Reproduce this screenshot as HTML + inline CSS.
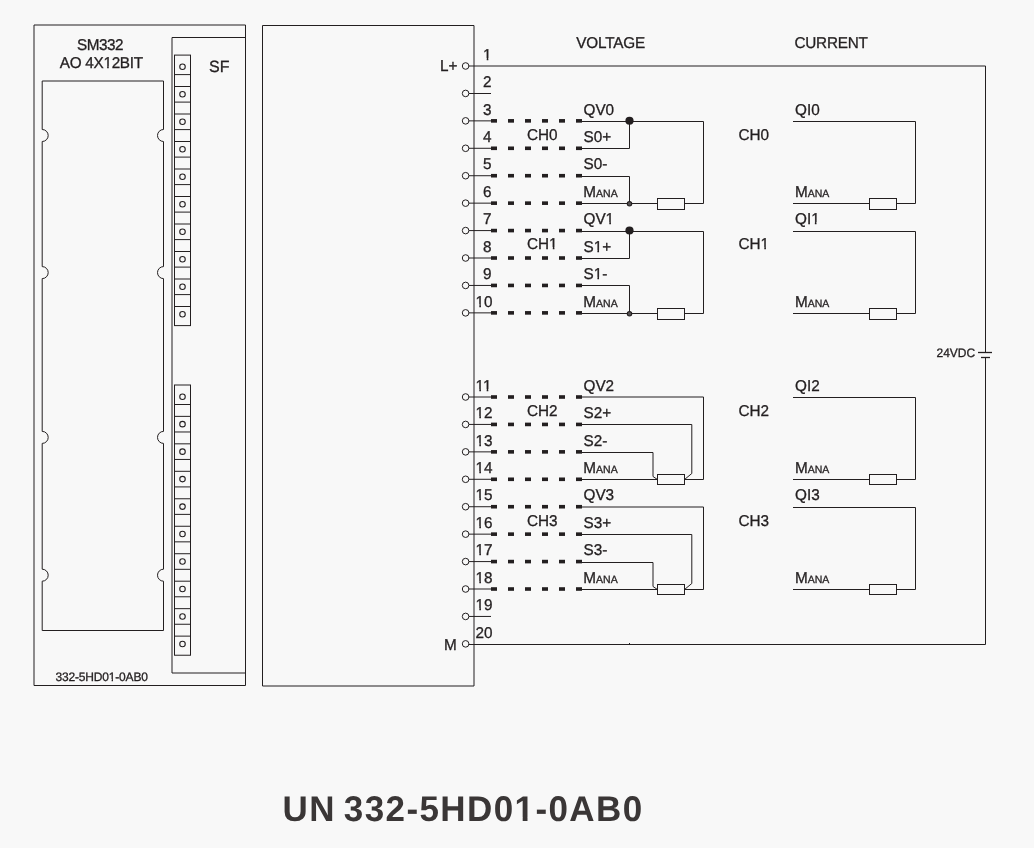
<!DOCTYPE html>
<html><head><meta charset="utf-8"><style>
html,body{margin:0;padding:0;background:#f8f8f8;}
svg{display:block;will-change:transform;}
text{font-family:"Liberation Sans", sans-serif;text-rendering:geometricPrecision;}
</style></head><body>
<svg width="1034" height="848" viewBox="0 0 1034 848">
<rect x="0" y="0" width="1034" height="848" fill="#f8f8f8"/>
<path d="M34,25 H245.5 V685.5 H34 Z" stroke="#231f20" stroke-width="1.0" fill="none"/>
<path d="M42.2,81.0 H163.5 V129.5 A6,6 0 0 0 163.5,141.5 V266.6 A6,6 0 0 0 163.5,278.6 V431.4 A6,6 0 0 0 163.5,443.4 V569.2 A6,6 0 0 0 163.5,581.2 V630.5 H42.2 V581.2 A6,6 0 0 0 42.2,569.2 V443.4 A6,6 0 0 0 42.2,431.4 V278.6 A6,6 0 0 0 42.2,266.6 V141.5 A6,6 0 0 0 42.2,129.5 Z" stroke="#231f20" stroke-width="1.0" fill="none"/>
<text x="100" y="50" transform="matrix(1,0,0,1.02,0,-1.000)" font-size="15.3" text-anchor="middle" font-weight="normal" fill="#231f20" stroke="#231f20" stroke-width="0.3" letter-spacing="-0.5">SM332</text>
<text x="101.3" y="68" transform="matrix(1,0,0,1.02,0,-1.360)" font-size="15.3" text-anchor="middle" font-weight="normal" fill="#231f20" stroke="#231f20" stroke-width="0.3" letter-spacing="-0.3">AO 4X12BIT</text>
<text x="55.5" y="681" transform="matrix(1,0,0,1.02,0,-13.620)" font-size="12" text-anchor="start" font-weight="normal" fill="#231f20" stroke="#231f20" stroke-width="0.3" letter-spacing="-0.18">332-5HD01-0AB0</text>
<path d="M245.5,37.5 H172 V673 H245.5" stroke="#231f20" stroke-width="1.0" fill="none"/>
<text x="209" y="72" transform="matrix(1,0,0,1.02,0,-1.440)" font-size="16" text-anchor="start" font-weight="normal" fill="#231f20" stroke="#231f20" stroke-width="0.3" >SF</text>
<rect x="174.5" y="55.099999999999994" width="16" height="270.5" stroke="#231f20" stroke-width="1.0" fill="none"/>
<circle cx="182.5" cy="66.8" r="2.75" stroke="#231f20" stroke-width="1.1" fill="none"/>
<line x1="174.5" y1="74.6" x2="190.5" y2="74.6" stroke="#231f20" stroke-width="1.0"/>
<circle cx="182.5" cy="94.3" r="2.75" stroke="#231f20" stroke-width="1.1" fill="none"/>
<line x1="174.5" y1="86.5" x2="190.5" y2="86.5" stroke="#231f20" stroke-width="1.0"/>
<line x1="174.5" y1="102.1" x2="190.5" y2="102.1" stroke="#231f20" stroke-width="1.0"/>
<circle cx="182.5" cy="121.8" r="2.75" stroke="#231f20" stroke-width="1.1" fill="none"/>
<line x1="174.5" y1="114.0" x2="190.5" y2="114.0" stroke="#231f20" stroke-width="1.0"/>
<line x1="174.5" y1="129.6" x2="190.5" y2="129.6" stroke="#231f20" stroke-width="1.0"/>
<circle cx="182.5" cy="149.3" r="2.75" stroke="#231f20" stroke-width="1.1" fill="none"/>
<line x1="174.5" y1="141.5" x2="190.5" y2="141.5" stroke="#231f20" stroke-width="1.0"/>
<line x1="174.5" y1="157.10000000000002" x2="190.5" y2="157.10000000000002" stroke="#231f20" stroke-width="1.0"/>
<circle cx="182.5" cy="176.8" r="2.75" stroke="#231f20" stroke-width="1.1" fill="none"/>
<line x1="174.5" y1="169.0" x2="190.5" y2="169.0" stroke="#231f20" stroke-width="1.0"/>
<line x1="174.5" y1="184.60000000000002" x2="190.5" y2="184.60000000000002" stroke="#231f20" stroke-width="1.0"/>
<circle cx="182.5" cy="204.3" r="2.75" stroke="#231f20" stroke-width="1.1" fill="none"/>
<line x1="174.5" y1="196.5" x2="190.5" y2="196.5" stroke="#231f20" stroke-width="1.0"/>
<line x1="174.5" y1="212.10000000000002" x2="190.5" y2="212.10000000000002" stroke="#231f20" stroke-width="1.0"/>
<circle cx="182.5" cy="231.8" r="2.75" stroke="#231f20" stroke-width="1.1" fill="none"/>
<line x1="174.5" y1="224.0" x2="190.5" y2="224.0" stroke="#231f20" stroke-width="1.0"/>
<line x1="174.5" y1="239.60000000000002" x2="190.5" y2="239.60000000000002" stroke="#231f20" stroke-width="1.0"/>
<circle cx="182.5" cy="259.3" r="2.75" stroke="#231f20" stroke-width="1.1" fill="none"/>
<line x1="174.5" y1="251.5" x2="190.5" y2="251.5" stroke="#231f20" stroke-width="1.0"/>
<line x1="174.5" y1="267.1" x2="190.5" y2="267.1" stroke="#231f20" stroke-width="1.0"/>
<circle cx="182.5" cy="286.8" r="2.75" stroke="#231f20" stroke-width="1.1" fill="none"/>
<line x1="174.5" y1="279.0" x2="190.5" y2="279.0" stroke="#231f20" stroke-width="1.0"/>
<line x1="174.5" y1="294.6" x2="190.5" y2="294.6" stroke="#231f20" stroke-width="1.0"/>
<circle cx="182.5" cy="314.3" r="2.75" stroke="#231f20" stroke-width="1.1" fill="none"/>
<line x1="174.5" y1="306.5" x2="190.5" y2="306.5" stroke="#231f20" stroke-width="1.0"/>
<rect x="174.5" y="385.0" width="16" height="270.2299999999999" stroke="#231f20" stroke-width="1.0" fill="none"/>
<circle cx="182.5" cy="396.7" r="2.75" stroke="#231f20" stroke-width="1.1" fill="none"/>
<line x1="174.5" y1="404.5" x2="190.5" y2="404.5" stroke="#231f20" stroke-width="1.0"/>
<circle cx="182.5" cy="424.16999999999996" r="2.75" stroke="#231f20" stroke-width="1.1" fill="none"/>
<line x1="174.5" y1="416.36999999999995" x2="190.5" y2="416.36999999999995" stroke="#231f20" stroke-width="1.0"/>
<line x1="174.5" y1="431.96999999999997" x2="190.5" y2="431.96999999999997" stroke="#231f20" stroke-width="1.0"/>
<circle cx="182.5" cy="451.64" r="2.75" stroke="#231f20" stroke-width="1.1" fill="none"/>
<line x1="174.5" y1="443.84" x2="190.5" y2="443.84" stroke="#231f20" stroke-width="1.0"/>
<line x1="174.5" y1="459.44" x2="190.5" y2="459.44" stroke="#231f20" stroke-width="1.0"/>
<circle cx="182.5" cy="479.11" r="2.75" stroke="#231f20" stroke-width="1.1" fill="none"/>
<line x1="174.5" y1="471.31" x2="190.5" y2="471.31" stroke="#231f20" stroke-width="1.0"/>
<line x1="174.5" y1="486.91" x2="190.5" y2="486.91" stroke="#231f20" stroke-width="1.0"/>
<circle cx="182.5" cy="506.58" r="2.75" stroke="#231f20" stroke-width="1.1" fill="none"/>
<line x1="174.5" y1="498.78" x2="190.5" y2="498.78" stroke="#231f20" stroke-width="1.0"/>
<line x1="174.5" y1="514.38" x2="190.5" y2="514.38" stroke="#231f20" stroke-width="1.0"/>
<circle cx="182.5" cy="534.05" r="2.75" stroke="#231f20" stroke-width="1.1" fill="none"/>
<line x1="174.5" y1="526.25" x2="190.5" y2="526.25" stroke="#231f20" stroke-width="1.0"/>
<line x1="174.5" y1="541.8499999999999" x2="190.5" y2="541.8499999999999" stroke="#231f20" stroke-width="1.0"/>
<circle cx="182.5" cy="561.52" r="2.75" stroke="#231f20" stroke-width="1.1" fill="none"/>
<line x1="174.5" y1="553.72" x2="190.5" y2="553.72" stroke="#231f20" stroke-width="1.0"/>
<line x1="174.5" y1="569.3199999999999" x2="190.5" y2="569.3199999999999" stroke="#231f20" stroke-width="1.0"/>
<circle cx="182.5" cy="588.99" r="2.75" stroke="#231f20" stroke-width="1.1" fill="none"/>
<line x1="174.5" y1="581.19" x2="190.5" y2="581.19" stroke="#231f20" stroke-width="1.0"/>
<line x1="174.5" y1="596.79" x2="190.5" y2="596.79" stroke="#231f20" stroke-width="1.0"/>
<circle cx="182.5" cy="616.46" r="2.75" stroke="#231f20" stroke-width="1.1" fill="none"/>
<line x1="174.5" y1="608.6600000000001" x2="190.5" y2="608.6600000000001" stroke="#231f20" stroke-width="1.0"/>
<line x1="174.5" y1="624.26" x2="190.5" y2="624.26" stroke="#231f20" stroke-width="1.0"/>
<circle cx="182.5" cy="643.93" r="2.75" stroke="#231f20" stroke-width="1.1" fill="none"/>
<line x1="174.5" y1="636.13" x2="190.5" y2="636.13" stroke="#231f20" stroke-width="1.0"/>
<path d="M262.5,25.5 H474 V686 H262.5 Z" stroke="#231f20" stroke-width="1.0" fill="none"/>
<circle cx="465.6" cy="66.0" r="3.3" stroke="#231f20" stroke-width="1.0" fill="#f8f8f8"/>
<text x="483" y="59.7" transform="matrix(1,0,0,1.02,0,-1.194)" font-size="15.3" text-anchor="start" font-weight="normal" fill="#231f20" stroke="#231f20" stroke-width="0.3" >1</text>
<circle cx="465.6" cy="93.43" r="3.3" stroke="#231f20" stroke-width="1.0" fill="#f8f8f8"/>
<text x="483" y="87.13000000000001" transform="matrix(1,0,0,1.02,0,-1.743)" font-size="15.3" text-anchor="start" font-weight="normal" fill="#231f20" stroke="#231f20" stroke-width="0.3" >2</text>
<circle cx="465.6" cy="120.86" r="3.3" stroke="#231f20" stroke-width="1.0" fill="#f8f8f8"/>
<text x="483" y="114.56" transform="matrix(1,0,0,1.02,0,-2.291)" font-size="15.3" text-anchor="start" font-weight="normal" fill="#231f20" stroke="#231f20" stroke-width="0.3" >3</text>
<circle cx="465.6" cy="148.29" r="3.3" stroke="#231f20" stroke-width="1.0" fill="#f8f8f8"/>
<text x="483" y="141.98999999999998" transform="matrix(1,0,0,1.02,0,-2.840)" font-size="15.3" text-anchor="start" font-weight="normal" fill="#231f20" stroke="#231f20" stroke-width="0.3" >4</text>
<circle cx="465.6" cy="175.72" r="3.3" stroke="#231f20" stroke-width="1.0" fill="#f8f8f8"/>
<text x="483" y="169.42" transform="matrix(1,0,0,1.02,0,-3.388)" font-size="15.3" text-anchor="start" font-weight="normal" fill="#231f20" stroke="#231f20" stroke-width="0.3" >5</text>
<circle cx="465.6" cy="203.15" r="3.3" stroke="#231f20" stroke-width="1.0" fill="#f8f8f8"/>
<text x="483" y="196.85" transform="matrix(1,0,0,1.02,0,-3.937)" font-size="15.3" text-anchor="start" font-weight="normal" fill="#231f20" stroke="#231f20" stroke-width="0.3" >6</text>
<circle cx="465.6" cy="230.57999999999998" r="3.3" stroke="#231f20" stroke-width="1.0" fill="#f8f8f8"/>
<text x="483" y="224.27999999999997" transform="matrix(1,0,0,1.02,0,-4.486)" font-size="15.3" text-anchor="start" font-weight="normal" fill="#231f20" stroke="#231f20" stroke-width="0.3" >7</text>
<circle cx="465.6" cy="258.01" r="3.3" stroke="#231f20" stroke-width="1.0" fill="#f8f8f8"/>
<text x="483" y="251.70999999999998" transform="matrix(1,0,0,1.02,0,-5.034)" font-size="15.3" text-anchor="start" font-weight="normal" fill="#231f20" stroke="#231f20" stroke-width="0.3" >8</text>
<circle cx="465.6" cy="285.44" r="3.3" stroke="#231f20" stroke-width="1.0" fill="#f8f8f8"/>
<text x="483" y="279.14" transform="matrix(1,0,0,1.02,0,-5.583)" font-size="15.3" text-anchor="start" font-weight="normal" fill="#231f20" stroke="#231f20" stroke-width="0.3" >9</text>
<circle cx="465.6" cy="312.87" r="3.3" stroke="#231f20" stroke-width="1.0" fill="#f8f8f8"/>
<text x="475.6" y="306.57" transform="matrix(1,0,0,1.02,0,-6.131)" font-size="15.3" text-anchor="start" font-weight="normal" fill="#231f20" stroke="#231f20" stroke-width="0.3" >10</text>
<circle cx="465.6" cy="397.0" r="3.3" stroke="#231f20" stroke-width="1.0" fill="#f8f8f8"/>
<text x="475.6" y="390.7" transform="matrix(1,0,0,1.02,0,-7.814)" font-size="15.3" text-anchor="start" font-weight="normal" fill="#231f20" stroke="#231f20" stroke-width="0.3" >11</text>
<circle cx="465.6" cy="424.43" r="3.3" stroke="#231f20" stroke-width="1.0" fill="#f8f8f8"/>
<text x="475.6" y="418.13" transform="matrix(1,0,0,1.02,0,-8.363)" font-size="15.3" text-anchor="start" font-weight="normal" fill="#231f20" stroke="#231f20" stroke-width="0.3" >12</text>
<circle cx="465.6" cy="451.86" r="3.3" stroke="#231f20" stroke-width="1.0" fill="#f8f8f8"/>
<text x="475.6" y="445.56" transform="matrix(1,0,0,1.02,0,-8.911)" font-size="15.3" text-anchor="start" font-weight="normal" fill="#231f20" stroke="#231f20" stroke-width="0.3" >13</text>
<circle cx="465.6" cy="479.28999999999996" r="3.3" stroke="#231f20" stroke-width="1.0" fill="#f8f8f8"/>
<text x="475.6" y="472.98999999999995" transform="matrix(1,0,0,1.02,0,-9.460)" font-size="15.3" text-anchor="start" font-weight="normal" fill="#231f20" stroke="#231f20" stroke-width="0.3" >14</text>
<circle cx="465.6" cy="506.72" r="3.3" stroke="#231f20" stroke-width="1.0" fill="#f8f8f8"/>
<text x="475.6" y="500.42" transform="matrix(1,0,0,1.02,0,-10.008)" font-size="15.3" text-anchor="start" font-weight="normal" fill="#231f20" stroke="#231f20" stroke-width="0.3" >15</text>
<circle cx="465.6" cy="534.15" r="3.3" stroke="#231f20" stroke-width="1.0" fill="#f8f8f8"/>
<text x="475.6" y="527.85" transform="matrix(1,0,0,1.02,0,-10.557)" font-size="15.3" text-anchor="start" font-weight="normal" fill="#231f20" stroke="#231f20" stroke-width="0.3" >16</text>
<circle cx="465.6" cy="561.5799999999999" r="3.3" stroke="#231f20" stroke-width="1.0" fill="#f8f8f8"/>
<text x="475.6" y="555.28" transform="matrix(1,0,0,1.02,0,-11.106)" font-size="15.3" text-anchor="start" font-weight="normal" fill="#231f20" stroke="#231f20" stroke-width="0.3" >17</text>
<circle cx="465.6" cy="589.01" r="3.3" stroke="#231f20" stroke-width="1.0" fill="#f8f8f8"/>
<text x="475.6" y="582.71" transform="matrix(1,0,0,1.02,0,-11.654)" font-size="15.3" text-anchor="start" font-weight="normal" fill="#231f20" stroke="#231f20" stroke-width="0.3" >18</text>
<circle cx="465.6" cy="616.44" r="3.3" stroke="#231f20" stroke-width="1.0" fill="#f8f8f8"/>
<text x="475.6" y="610.1400000000001" transform="matrix(1,0,0,1.02,0,-12.203)" font-size="15.3" text-anchor="start" font-weight="normal" fill="#231f20" stroke="#231f20" stroke-width="0.3" >19</text>
<circle cx="465.6" cy="643.87" r="3.3" stroke="#231f20" stroke-width="1.0" fill="#f8f8f8"/>
<text x="475.6" y="637.57" transform="matrix(1,0,0,1.02,0,-12.751)" font-size="15.3" text-anchor="start" font-weight="normal" fill="#231f20" stroke="#231f20" stroke-width="0.3" >20</text>
<text x="440" y="71" transform="matrix(1,0,0,1.02,0,-1.420)" font-size="15.3" text-anchor="start" font-weight="normal" fill="#231f20" stroke="#231f20" stroke-width="0.3" >L+</text>
<text x="444" y="650" transform="matrix(1,0,0,1.02,0,-13.000)" font-size="15.3" text-anchor="start" font-weight="normal" fill="#231f20" stroke="#231f20" stroke-width="0.3" >M</text>
<line x1="468.90000000000003" y1="66.0" x2="985.5" y2="66.0" stroke="#231f20" stroke-width="1.0"/>
<line x1="985.5" y1="66.0" x2="985.5" y2="352.5" stroke="#231f20" stroke-width="1.0"/>
<line x1="985.5" y1="357.5" x2="985.5" y2="644.5" stroke="#231f20" stroke-width="1.0"/>
<line x1="468.90000000000003" y1="644.5" x2="985.5" y2="644.5" stroke="#231f20" stroke-width="1.0"/>
<line x1="978" y1="352.5" x2="992" y2="352.5" stroke="#231f20" stroke-width="1.3"/>
<line x1="981" y1="357.5" x2="990" y2="357.5" stroke="#231f20" stroke-width="1.3"/>
<text x="936.5" y="357.3" transform="matrix(1,0,0,1.02,0,-7.146)" font-size="12" text-anchor="start" font-weight="normal" fill="#231f20" stroke="#231f20" stroke-width="0.3" >24VDC</text>
<line x1="468.90000000000003" y1="93.5" x2="491" y2="93.5" stroke="#231f20" stroke-width="1.0"/>
<line x1="468.90000000000003" y1="616.44" x2="491" y2="616.44" stroke="#231f20" stroke-width="1.0"/>
<text x="576.3" y="48" transform="matrix(1,0,0,1.02,0,-0.960)" font-size="15.3" text-anchor="start" font-weight="normal" fill="#231f20" stroke="#231f20" stroke-width="0.3" letter-spacing="-0.2">VOLTAGE</text>
<text x="794.5" y="48" transform="matrix(1,0,0,1.02,0,-0.960)" font-size="15.3" text-anchor="start" font-weight="normal" fill="#231f20" stroke="#231f20" stroke-width="0.3" letter-spacing="-0.25">CURRENT</text>
<line x1="468.90000000000003" y1="120.86" x2="491" y2="120.86" stroke="#231f20" stroke-width="1.0"/>
<rect x="491" y="119.06" width="6" height="3.6" stroke="#231f20" stroke-width="0" fill="#231f20"/>
<rect x="508" y="119.06" width="6" height="3.6" stroke="#231f20" stroke-width="0" fill="#231f20"/>
<rect x="525" y="119.06" width="6" height="3.6" stroke="#231f20" stroke-width="0" fill="#231f20"/>
<rect x="542" y="119.06" width="6" height="3.6" stroke="#231f20" stroke-width="0" fill="#231f20"/>
<rect x="559" y="119.06" width="6" height="3.6" stroke="#231f20" stroke-width="0" fill="#231f20"/>
<rect x="576" y="119.06" width="6" height="3.6" stroke="#231f20" stroke-width="0" fill="#231f20"/>
<line x1="468.90000000000003" y1="148.29" x2="491" y2="148.29" stroke="#231f20" stroke-width="1.0"/>
<rect x="491" y="146.48999999999998" width="6" height="3.6" stroke="#231f20" stroke-width="0" fill="#231f20"/>
<rect x="508" y="146.48999999999998" width="6" height="3.6" stroke="#231f20" stroke-width="0" fill="#231f20"/>
<rect x="525" y="146.48999999999998" width="6" height="3.6" stroke="#231f20" stroke-width="0" fill="#231f20"/>
<rect x="542" y="146.48999999999998" width="6" height="3.6" stroke="#231f20" stroke-width="0" fill="#231f20"/>
<rect x="559" y="146.48999999999998" width="6" height="3.6" stroke="#231f20" stroke-width="0" fill="#231f20"/>
<rect x="576" y="146.48999999999998" width="6" height="3.6" stroke="#231f20" stroke-width="0" fill="#231f20"/>
<line x1="468.90000000000003" y1="175.72" x2="491" y2="175.72" stroke="#231f20" stroke-width="1.0"/>
<rect x="491" y="173.92" width="6" height="3.6" stroke="#231f20" stroke-width="0" fill="#231f20"/>
<rect x="508" y="173.92" width="6" height="3.6" stroke="#231f20" stroke-width="0" fill="#231f20"/>
<rect x="525" y="173.92" width="6" height="3.6" stroke="#231f20" stroke-width="0" fill="#231f20"/>
<rect x="542" y="173.92" width="6" height="3.6" stroke="#231f20" stroke-width="0" fill="#231f20"/>
<rect x="559" y="173.92" width="6" height="3.6" stroke="#231f20" stroke-width="0" fill="#231f20"/>
<rect x="576" y="173.92" width="6" height="3.6" stroke="#231f20" stroke-width="0" fill="#231f20"/>
<line x1="468.90000000000003" y1="203.15" x2="491" y2="203.15" stroke="#231f20" stroke-width="1.0"/>
<rect x="491" y="201.35" width="6" height="3.6" stroke="#231f20" stroke-width="0" fill="#231f20"/>
<rect x="508" y="201.35" width="6" height="3.6" stroke="#231f20" stroke-width="0" fill="#231f20"/>
<rect x="525" y="201.35" width="6" height="3.6" stroke="#231f20" stroke-width="0" fill="#231f20"/>
<rect x="542" y="201.35" width="6" height="3.6" stroke="#231f20" stroke-width="0" fill="#231f20"/>
<rect x="559" y="201.35" width="6" height="3.6" stroke="#231f20" stroke-width="0" fill="#231f20"/>
<rect x="576" y="201.35" width="6" height="3.6" stroke="#231f20" stroke-width="0" fill="#231f20"/>
<text x="527" y="139.66" transform="matrix(1,0,0,1.02,0,-2.793)" font-size="15.3" text-anchor="start" font-weight="normal" fill="#231f20" stroke="#231f20" stroke-width="0.3" >CH0</text>
<text x="583.5" y="114.56" transform="matrix(1,0,0,1.02,0,-2.291)" font-size="15.3" text-anchor="start" font-weight="normal" fill="#231f20" stroke="#231f20" stroke-width="0.3" >QV0</text>
<text x="583.5" y="141.98999999999998" transform="matrix(1,0,0,1.02,0,-2.840)" font-size="15.3" text-anchor="start" font-weight="normal" fill="#231f20" stroke="#231f20" stroke-width="0.3" >S0+</text>
<text x="583.5" y="169.42" transform="matrix(1,0,0,1.02,0,-3.388)" font-size="15.3" text-anchor="start" font-weight="normal" fill="#231f20" stroke="#231f20" stroke-width="0.3" >S0-</text>
<text x="583.3" y="196.85" transform="matrix(1,0,0,1.02,0,-3.937)" font-size="15.3" text-anchor="start" font-weight="normal" fill="#231f20" stroke="#231f20" stroke-width="0.3" >M<tspan font-size="10.5">ANA</tspan></text>
<line x1="582" y1="121.5" x2="703.5" y2="121.5" stroke="#231f20" stroke-width="1.0"/>
<path d="M582,148.5 H629.5 V121.5" stroke="#231f20" stroke-width="1.0" fill="none"/>
<path d="M582,176.5 H629.5 V203.5" stroke="#231f20" stroke-width="1.0" fill="none"/>
<line x1="582" y1="203.5" x2="657.5" y2="203.5" stroke="#231f20" stroke-width="1.0"/>
<path d="M684.5,203.5 H703.5 V121.5" stroke="#231f20" stroke-width="1.0" fill="none"/>
<circle cx="629.5" cy="120.76" r="4.1" stroke="#231f20" stroke-width="0" fill="#231f20"/>
<circle cx="629.5" cy="203.75" r="2.2" stroke="#231f20" stroke-width="1.1" fill="#555152"/>
<rect x="657.5" y="198.5" width="27.0" height="11" stroke="#231f20" stroke-width="1.0" fill="#f8f8f8"/>
<text x="738.5" y="139.66" transform="matrix(1,0,0,1.02,0,-2.793)" font-size="15.3" text-anchor="start" font-weight="normal" fill="#231f20" stroke="#231f20" stroke-width="0.3" >CH0</text>
<text x="795" y="114.56" transform="matrix(1,0,0,1.02,0,-2.291)" font-size="15.3" text-anchor="start" font-weight="normal" fill="#231f20" stroke="#231f20" stroke-width="0.3" >QI0</text>
<text x="795" y="196.85" transform="matrix(1,0,0,1.02,0,-3.937)" font-size="15.3" text-anchor="start" font-weight="normal" fill="#231f20" stroke="#231f20" stroke-width="0.3" >M<tspan font-size="10.5">ANA</tspan></text>
<path d="M793,121.5 H915.5 V203.5 H896.5" stroke="#231f20" stroke-width="1.0" fill="none"/>
<line x1="793" y1="203.5" x2="869.5" y2="203.5" stroke="#231f20" stroke-width="1.0"/>
<rect x="869.5" y="198.5" width="27" height="11" stroke="#231f20" stroke-width="1.0" fill="#f8f8f8"/>
<line x1="468.90000000000003" y1="230.57999999999998" x2="491" y2="230.57999999999998" stroke="#231f20" stroke-width="1.0"/>
<rect x="491" y="228.77999999999997" width="6" height="3.6" stroke="#231f20" stroke-width="0" fill="#231f20"/>
<rect x="508" y="228.77999999999997" width="6" height="3.6" stroke="#231f20" stroke-width="0" fill="#231f20"/>
<rect x="525" y="228.77999999999997" width="6" height="3.6" stroke="#231f20" stroke-width="0" fill="#231f20"/>
<rect x="542" y="228.77999999999997" width="6" height="3.6" stroke="#231f20" stroke-width="0" fill="#231f20"/>
<rect x="559" y="228.77999999999997" width="6" height="3.6" stroke="#231f20" stroke-width="0" fill="#231f20"/>
<rect x="576" y="228.77999999999997" width="6" height="3.6" stroke="#231f20" stroke-width="0" fill="#231f20"/>
<line x1="468.90000000000003" y1="258.01" x2="491" y2="258.01" stroke="#231f20" stroke-width="1.0"/>
<rect x="491" y="256.21" width="6" height="3.6" stroke="#231f20" stroke-width="0" fill="#231f20"/>
<rect x="508" y="256.21" width="6" height="3.6" stroke="#231f20" stroke-width="0" fill="#231f20"/>
<rect x="525" y="256.21" width="6" height="3.6" stroke="#231f20" stroke-width="0" fill="#231f20"/>
<rect x="542" y="256.21" width="6" height="3.6" stroke="#231f20" stroke-width="0" fill="#231f20"/>
<rect x="559" y="256.21" width="6" height="3.6" stroke="#231f20" stroke-width="0" fill="#231f20"/>
<rect x="576" y="256.21" width="6" height="3.6" stroke="#231f20" stroke-width="0" fill="#231f20"/>
<line x1="468.90000000000003" y1="285.44" x2="491" y2="285.44" stroke="#231f20" stroke-width="1.0"/>
<rect x="491" y="283.64" width="6" height="3.6" stroke="#231f20" stroke-width="0" fill="#231f20"/>
<rect x="508" y="283.64" width="6" height="3.6" stroke="#231f20" stroke-width="0" fill="#231f20"/>
<rect x="525" y="283.64" width="6" height="3.6" stroke="#231f20" stroke-width="0" fill="#231f20"/>
<rect x="542" y="283.64" width="6" height="3.6" stroke="#231f20" stroke-width="0" fill="#231f20"/>
<rect x="559" y="283.64" width="6" height="3.6" stroke="#231f20" stroke-width="0" fill="#231f20"/>
<rect x="576" y="283.64" width="6" height="3.6" stroke="#231f20" stroke-width="0" fill="#231f20"/>
<line x1="468.90000000000003" y1="312.87" x2="491" y2="312.87" stroke="#231f20" stroke-width="1.0"/>
<rect x="491" y="311.07" width="6" height="3.6" stroke="#231f20" stroke-width="0" fill="#231f20"/>
<rect x="508" y="311.07" width="6" height="3.6" stroke="#231f20" stroke-width="0" fill="#231f20"/>
<rect x="525" y="311.07" width="6" height="3.6" stroke="#231f20" stroke-width="0" fill="#231f20"/>
<rect x="542" y="311.07" width="6" height="3.6" stroke="#231f20" stroke-width="0" fill="#231f20"/>
<rect x="559" y="311.07" width="6" height="3.6" stroke="#231f20" stroke-width="0" fill="#231f20"/>
<rect x="576" y="311.07" width="6" height="3.6" stroke="#231f20" stroke-width="0" fill="#231f20"/>
<text x="527" y="249.38" transform="matrix(1,0,0,1.02,0,-4.988)" font-size="15.3" text-anchor="start" font-weight="normal" fill="#231f20" stroke="#231f20" stroke-width="0.3" >CH1</text>
<text x="583.5" y="224.27999999999997" transform="matrix(1,0,0,1.02,0,-4.486)" font-size="15.3" text-anchor="start" font-weight="normal" fill="#231f20" stroke="#231f20" stroke-width="0.3" >QV1</text>
<text x="583.5" y="251.70999999999998" transform="matrix(1,0,0,1.02,0,-5.034)" font-size="15.3" text-anchor="start" font-weight="normal" fill="#231f20" stroke="#231f20" stroke-width="0.3" >S1+</text>
<text x="583.5" y="279.14" transform="matrix(1,0,0,1.02,0,-5.583)" font-size="15.3" text-anchor="start" font-weight="normal" fill="#231f20" stroke="#231f20" stroke-width="0.3" >S1-</text>
<text x="583.3" y="306.57" transform="matrix(1,0,0,1.02,0,-6.131)" font-size="15.3" text-anchor="start" font-weight="normal" fill="#231f20" stroke="#231f20" stroke-width="0.3" >M<tspan font-size="10.5">ANA</tspan></text>
<line x1="582" y1="231.5" x2="703.5" y2="231.5" stroke="#231f20" stroke-width="1.0"/>
<path d="M582,258.5 H629.5 V231.5" stroke="#231f20" stroke-width="1.0" fill="none"/>
<path d="M582,285.5 H629.5 V313.5" stroke="#231f20" stroke-width="1.0" fill="none"/>
<line x1="582" y1="313.5" x2="657.5" y2="313.5" stroke="#231f20" stroke-width="1.0"/>
<path d="M684.5,313.5 H703.5 V231.5" stroke="#231f20" stroke-width="1.0" fill="none"/>
<circle cx="629.5" cy="230.48" r="4.1" stroke="#231f20" stroke-width="0" fill="#231f20"/>
<circle cx="629.5" cy="313.75" r="2.2" stroke="#231f20" stroke-width="1.1" fill="#555152"/>
<rect x="657.5" y="308.5" width="27.0" height="11" stroke="#231f20" stroke-width="1.0" fill="#f8f8f8"/>
<text x="738.5" y="249.38" transform="matrix(1,0,0,1.02,0,-4.988)" font-size="15.3" text-anchor="start" font-weight="normal" fill="#231f20" stroke="#231f20" stroke-width="0.3" >CH1</text>
<text x="795" y="224.27999999999997" transform="matrix(1,0,0,1.02,0,-4.486)" font-size="15.3" text-anchor="start" font-weight="normal" fill="#231f20" stroke="#231f20" stroke-width="0.3" >QI1</text>
<text x="795" y="306.57" transform="matrix(1,0,0,1.02,0,-6.131)" font-size="15.3" text-anchor="start" font-weight="normal" fill="#231f20" stroke="#231f20" stroke-width="0.3" >M<tspan font-size="10.5">ANA</tspan></text>
<path d="M793,231.5 H915.5 V313.5 H896.5" stroke="#231f20" stroke-width="1.0" fill="none"/>
<line x1="793" y1="313.5" x2="869.5" y2="313.5" stroke="#231f20" stroke-width="1.0"/>
<rect x="869.5" y="308.5" width="27" height="11" stroke="#231f20" stroke-width="1.0" fill="#f8f8f8"/>
<line x1="468.90000000000003" y1="397.0" x2="491" y2="397.0" stroke="#231f20" stroke-width="1.0"/>
<rect x="491" y="395.2" width="6" height="3.6" stroke="#231f20" stroke-width="0" fill="#231f20"/>
<rect x="508" y="395.2" width="6" height="3.6" stroke="#231f20" stroke-width="0" fill="#231f20"/>
<rect x="525" y="395.2" width="6" height="3.6" stroke="#231f20" stroke-width="0" fill="#231f20"/>
<rect x="542" y="395.2" width="6" height="3.6" stroke="#231f20" stroke-width="0" fill="#231f20"/>
<rect x="559" y="395.2" width="6" height="3.6" stroke="#231f20" stroke-width="0" fill="#231f20"/>
<rect x="576" y="395.2" width="6" height="3.6" stroke="#231f20" stroke-width="0" fill="#231f20"/>
<line x1="468.90000000000003" y1="424.43" x2="491" y2="424.43" stroke="#231f20" stroke-width="1.0"/>
<rect x="491" y="422.63" width="6" height="3.6" stroke="#231f20" stroke-width="0" fill="#231f20"/>
<rect x="508" y="422.63" width="6" height="3.6" stroke="#231f20" stroke-width="0" fill="#231f20"/>
<rect x="525" y="422.63" width="6" height="3.6" stroke="#231f20" stroke-width="0" fill="#231f20"/>
<rect x="542" y="422.63" width="6" height="3.6" stroke="#231f20" stroke-width="0" fill="#231f20"/>
<rect x="559" y="422.63" width="6" height="3.6" stroke="#231f20" stroke-width="0" fill="#231f20"/>
<rect x="576" y="422.63" width="6" height="3.6" stroke="#231f20" stroke-width="0" fill="#231f20"/>
<line x1="468.90000000000003" y1="451.86" x2="491" y2="451.86" stroke="#231f20" stroke-width="1.0"/>
<rect x="491" y="450.06" width="6" height="3.6" stroke="#231f20" stroke-width="0" fill="#231f20"/>
<rect x="508" y="450.06" width="6" height="3.6" stroke="#231f20" stroke-width="0" fill="#231f20"/>
<rect x="525" y="450.06" width="6" height="3.6" stroke="#231f20" stroke-width="0" fill="#231f20"/>
<rect x="542" y="450.06" width="6" height="3.6" stroke="#231f20" stroke-width="0" fill="#231f20"/>
<rect x="559" y="450.06" width="6" height="3.6" stroke="#231f20" stroke-width="0" fill="#231f20"/>
<rect x="576" y="450.06" width="6" height="3.6" stroke="#231f20" stroke-width="0" fill="#231f20"/>
<line x1="468.90000000000003" y1="479.28999999999996" x2="491" y2="479.28999999999996" stroke="#231f20" stroke-width="1.0"/>
<rect x="491" y="477.48999999999995" width="6" height="3.6" stroke="#231f20" stroke-width="0" fill="#231f20"/>
<rect x="508" y="477.48999999999995" width="6" height="3.6" stroke="#231f20" stroke-width="0" fill="#231f20"/>
<rect x="525" y="477.48999999999995" width="6" height="3.6" stroke="#231f20" stroke-width="0" fill="#231f20"/>
<rect x="542" y="477.48999999999995" width="6" height="3.6" stroke="#231f20" stroke-width="0" fill="#231f20"/>
<rect x="559" y="477.48999999999995" width="6" height="3.6" stroke="#231f20" stroke-width="0" fill="#231f20"/>
<rect x="576" y="477.48999999999995" width="6" height="3.6" stroke="#231f20" stroke-width="0" fill="#231f20"/>
<text x="527" y="415.8" transform="matrix(1,0,0,1.02,0,-8.316)" font-size="15.3" text-anchor="start" font-weight="normal" fill="#231f20" stroke="#231f20" stroke-width="0.3" >CH2</text>
<text x="583.5" y="390.7" transform="matrix(1,0,0,1.02,0,-7.814)" font-size="15.3" text-anchor="start" font-weight="normal" fill="#231f20" stroke="#231f20" stroke-width="0.3" >QV2</text>
<text x="583.5" y="418.13" transform="matrix(1,0,0,1.02,0,-8.363)" font-size="15.3" text-anchor="start" font-weight="normal" fill="#231f20" stroke="#231f20" stroke-width="0.3" >S2+</text>
<text x="583.5" y="445.56" transform="matrix(1,0,0,1.02,0,-8.911)" font-size="15.3" text-anchor="start" font-weight="normal" fill="#231f20" stroke="#231f20" stroke-width="0.3" >S2-</text>
<text x="583.3" y="472.98999999999995" transform="matrix(1,0,0,1.02,0,-9.460)" font-size="15.3" text-anchor="start" font-weight="normal" fill="#231f20" stroke="#231f20" stroke-width="0.3" >M<tspan font-size="10.5">ANA</tspan></text>
<path d="M582,397.0 H703.5 V479.5 H684.5" stroke="#231f20" stroke-width="1.0" fill="none"/>
<path d="M582,424.5 H691.8 V473.5 L684.5,479.5" stroke="#231f20" stroke-width="1.0" fill="none"/>
<path d="M582,452.5 H653 V476.5 L657.5,479.5" stroke="#231f20" stroke-width="1.0" fill="none"/>
<line x1="582" y1="479.5" x2="657.5" y2="479.5" stroke="#231f20" stroke-width="1.0"/>
<rect x="657.5" y="474.5" width="27.0" height="10" stroke="#231f20" stroke-width="1.0" fill="#f8f8f8"/>
<text x="738.5" y="415.8" transform="matrix(1,0,0,1.02,0,-8.316)" font-size="15.3" text-anchor="start" font-weight="normal" fill="#231f20" stroke="#231f20" stroke-width="0.3" >CH2</text>
<text x="795" y="390.7" transform="matrix(1,0,0,1.02,0,-7.814)" font-size="15.3" text-anchor="start" font-weight="normal" fill="#231f20" stroke="#231f20" stroke-width="0.3" >QI2</text>
<text x="795" y="472.98999999999995" transform="matrix(1,0,0,1.02,0,-9.460)" font-size="15.3" text-anchor="start" font-weight="normal" fill="#231f20" stroke="#231f20" stroke-width="0.3" >M<tspan font-size="10.5">ANA</tspan></text>
<path d="M793,397.5 H915.5 V479.5 H896.5" stroke="#231f20" stroke-width="1.0" fill="none"/>
<line x1="793" y1="479.5" x2="869.5" y2="479.5" stroke="#231f20" stroke-width="1.0"/>
<rect x="869.5" y="474.5" width="27" height="10" stroke="#231f20" stroke-width="1.0" fill="#f8f8f8"/>
<line x1="468.90000000000003" y1="506.72" x2="491" y2="506.72" stroke="#231f20" stroke-width="1.0"/>
<rect x="491" y="504.92" width="6" height="3.6" stroke="#231f20" stroke-width="0" fill="#231f20"/>
<rect x="508" y="504.92" width="6" height="3.6" stroke="#231f20" stroke-width="0" fill="#231f20"/>
<rect x="525" y="504.92" width="6" height="3.6" stroke="#231f20" stroke-width="0" fill="#231f20"/>
<rect x="542" y="504.92" width="6" height="3.6" stroke="#231f20" stroke-width="0" fill="#231f20"/>
<rect x="559" y="504.92" width="6" height="3.6" stroke="#231f20" stroke-width="0" fill="#231f20"/>
<rect x="576" y="504.92" width="6" height="3.6" stroke="#231f20" stroke-width="0" fill="#231f20"/>
<line x1="468.90000000000003" y1="534.15" x2="491" y2="534.15" stroke="#231f20" stroke-width="1.0"/>
<rect x="491" y="532.35" width="6" height="3.6" stroke="#231f20" stroke-width="0" fill="#231f20"/>
<rect x="508" y="532.35" width="6" height="3.6" stroke="#231f20" stroke-width="0" fill="#231f20"/>
<rect x="525" y="532.35" width="6" height="3.6" stroke="#231f20" stroke-width="0" fill="#231f20"/>
<rect x="542" y="532.35" width="6" height="3.6" stroke="#231f20" stroke-width="0" fill="#231f20"/>
<rect x="559" y="532.35" width="6" height="3.6" stroke="#231f20" stroke-width="0" fill="#231f20"/>
<rect x="576" y="532.35" width="6" height="3.6" stroke="#231f20" stroke-width="0" fill="#231f20"/>
<line x1="468.90000000000003" y1="561.5799999999999" x2="491" y2="561.5799999999999" stroke="#231f20" stroke-width="1.0"/>
<rect x="491" y="559.78" width="6" height="3.6" stroke="#231f20" stroke-width="0" fill="#231f20"/>
<rect x="508" y="559.78" width="6" height="3.6" stroke="#231f20" stroke-width="0" fill="#231f20"/>
<rect x="525" y="559.78" width="6" height="3.6" stroke="#231f20" stroke-width="0" fill="#231f20"/>
<rect x="542" y="559.78" width="6" height="3.6" stroke="#231f20" stroke-width="0" fill="#231f20"/>
<rect x="559" y="559.78" width="6" height="3.6" stroke="#231f20" stroke-width="0" fill="#231f20"/>
<rect x="576" y="559.78" width="6" height="3.6" stroke="#231f20" stroke-width="0" fill="#231f20"/>
<line x1="468.90000000000003" y1="589.01" x2="491" y2="589.01" stroke="#231f20" stroke-width="1.0"/>
<rect x="491" y="587.21" width="6" height="3.6" stroke="#231f20" stroke-width="0" fill="#231f20"/>
<rect x="508" y="587.21" width="6" height="3.6" stroke="#231f20" stroke-width="0" fill="#231f20"/>
<rect x="525" y="587.21" width="6" height="3.6" stroke="#231f20" stroke-width="0" fill="#231f20"/>
<rect x="542" y="587.21" width="6" height="3.6" stroke="#231f20" stroke-width="0" fill="#231f20"/>
<rect x="559" y="587.21" width="6" height="3.6" stroke="#231f20" stroke-width="0" fill="#231f20"/>
<rect x="576" y="587.21" width="6" height="3.6" stroke="#231f20" stroke-width="0" fill="#231f20"/>
<text x="527" y="525.52" transform="matrix(1,0,0,1.02,0,-10.510)" font-size="15.3" text-anchor="start" font-weight="normal" fill="#231f20" stroke="#231f20" stroke-width="0.3" >CH3</text>
<text x="583.5" y="500.42" transform="matrix(1,0,0,1.02,0,-10.008)" font-size="15.3" text-anchor="start" font-weight="normal" fill="#231f20" stroke="#231f20" stroke-width="0.3" >QV3</text>
<text x="583.5" y="527.85" transform="matrix(1,0,0,1.02,0,-10.557)" font-size="15.3" text-anchor="start" font-weight="normal" fill="#231f20" stroke="#231f20" stroke-width="0.3" >S3+</text>
<text x="583.5" y="555.28" transform="matrix(1,0,0,1.02,0,-11.106)" font-size="15.3" text-anchor="start" font-weight="normal" fill="#231f20" stroke="#231f20" stroke-width="0.3" >S3-</text>
<text x="583.3" y="582.71" transform="matrix(1,0,0,1.02,0,-11.654)" font-size="15.3" text-anchor="start" font-weight="normal" fill="#231f20" stroke="#231f20" stroke-width="0.3" >M<tspan font-size="10.5">ANA</tspan></text>
<path d="M582,507.0 H703.5 V589.5 H684.5" stroke="#231f20" stroke-width="1.0" fill="none"/>
<path d="M582,534.5 H691.8 V583.5 L684.5,589.5" stroke="#231f20" stroke-width="1.0" fill="none"/>
<path d="M582,562.5 H653 V586.5 L657.5,589.5" stroke="#231f20" stroke-width="1.0" fill="none"/>
<line x1="582" y1="589.5" x2="657.5" y2="589.5" stroke="#231f20" stroke-width="1.0"/>
<rect x="657.5" y="584.5" width="27.0" height="10" stroke="#231f20" stroke-width="1.0" fill="#f8f8f8"/>
<text x="738.5" y="525.52" transform="matrix(1,0,0,1.02,0,-10.510)" font-size="15.3" text-anchor="start" font-weight="normal" fill="#231f20" stroke="#231f20" stroke-width="0.3" >CH3</text>
<text x="795" y="500.42" transform="matrix(1,0,0,1.02,0,-10.008)" font-size="15.3" text-anchor="start" font-weight="normal" fill="#231f20" stroke="#231f20" stroke-width="0.3" >QI3</text>
<text x="795" y="582.71" transform="matrix(1,0,0,1.02,0,-11.654)" font-size="15.3" text-anchor="start" font-weight="normal" fill="#231f20" stroke="#231f20" stroke-width="0.3" >M<tspan font-size="10.5">ANA</tspan></text>
<path d="M793,507.5 H915.5 V589.5 H896.5" stroke="#231f20" stroke-width="1.0" fill="none"/>
<line x1="793" y1="589.5" x2="869.5" y2="589.5" stroke="#231f20" stroke-width="1.0"/>
<rect x="869.5" y="584.5" width="27" height="10" stroke="#231f20" stroke-width="1.0" fill="#f8f8f8"/>
<rect x="629" y="643" width="1" height="1" stroke="#231f20" stroke-width="0" fill="#231f20"/>
<text x="282.5" y="821.3" transform="matrix(1,0,0,1.02,0,-16.426)" font-size="35" text-anchor="start" font-weight="bold" fill="#3a3636" stroke="#3a3636" stroke-width="0" letter-spacing="1.4">UN<tspan x="343.8">332-5HD01-0AB0</tspan></text>
<rect x="104" y="66" width="3.11" height="3" fill="#f8f8f8"/>
<rect x="108.76" y="66" width="3.24" height="3" fill="#f8f8f8"/>
<rect x="109" y="679" width="2.62" height="3" fill="#f8f8f8"/>
<rect x="112.98" y="679" width="3.02" height="3" fill="#f8f8f8"/>
<rect x="483" y="58" width="3.70" height="3" fill="#f8f8f8"/>
<rect x="488.35" y="58" width="3.65" height="3" fill="#f8f8f8"/>
<rect x="476" y="304" width="3.30" height="4" fill="#f8f8f8"/>
<rect x="480.95" y="304" width="3.05" height="4" fill="#f8f8f8"/>
<rect x="476" y="389" width="3.30" height="3" fill="#f8f8f8"/>
<rect x="480.95" y="389" width="3.05" height="3" fill="#f8f8f8"/>
<rect x="483" y="389" width="3.66" height="3" fill="#f8f8f8"/>
<rect x="488.31" y="389" width="3.69" height="3" fill="#f8f8f8"/>
<rect x="476" y="416" width="3.30" height="3" fill="#f8f8f8"/>
<rect x="480.95" y="416" width="3.05" height="3" fill="#f8f8f8"/>
<rect x="476" y="443" width="3.30" height="4" fill="#f8f8f8"/>
<rect x="480.95" y="443" width="3.05" height="4" fill="#f8f8f8"/>
<rect x="476" y="471" width="3.30" height="3" fill="#f8f8f8"/>
<rect x="480.95" y="471" width="3.05" height="3" fill="#f8f8f8"/>
<rect x="476" y="498" width="3.30" height="3" fill="#f8f8f8"/>
<rect x="480.95" y="498" width="3.05" height="3" fill="#f8f8f8"/>
<rect x="476" y="526" width="3.30" height="3" fill="#f8f8f8"/>
<rect x="480.95" y="526" width="3.05" height="3" fill="#f8f8f8"/>
<rect x="476" y="553" width="3.30" height="3" fill="#f8f8f8"/>
<rect x="480.95" y="553" width="3.05" height="3" fill="#f8f8f8"/>
<rect x="476" y="581" width="3.30" height="3" fill="#f8f8f8"/>
<rect x="480.95" y="581" width="3.05" height="3" fill="#f8f8f8"/>
<rect x="476" y="608" width="3.30" height="3" fill="#f8f8f8"/>
<rect x="480.95" y="608" width="3.05" height="3" fill="#f8f8f8"/>
<rect x="549" y="247" width="3.79" height="3" fill="#f8f8f8"/>
<rect x="554.44" y="247" width="3.56" height="3" fill="#f8f8f8"/>
<rect x="606" y="222" width="3.29" height="3" fill="#f8f8f8"/>
<rect x="610.94" y="222" width="3.06" height="3" fill="#f8f8f8"/>
<rect x="594" y="250" width="3.38" height="3" fill="#f8f8f8"/>
<rect x="599.04" y="250" width="2.96" height="3" fill="#f8f8f8"/>
<rect x="594" y="277" width="3.38" height="3" fill="#f8f8f8"/>
<rect x="599.04" y="277" width="2.96" height="3" fill="#f8f8f8"/>
<rect x="761" y="247" width="3.29" height="3" fill="#f8f8f8"/>
<rect x="765.94" y="247" width="3.06" height="3" fill="#f8f8f8"/>
<rect x="811" y="222" width="3.84" height="3" fill="#f8f8f8"/>
<rect x="816.49" y="222" width="3.51" height="3" fill="#f8f8f8"/>
<rect x="516" y="817" width="6.69" height="5" fill="#f8f8f8"/>
<rect x="527.49" y="817" width="6.51" height="5" fill="#f8f8f8"/>
</svg>
</body></html>
